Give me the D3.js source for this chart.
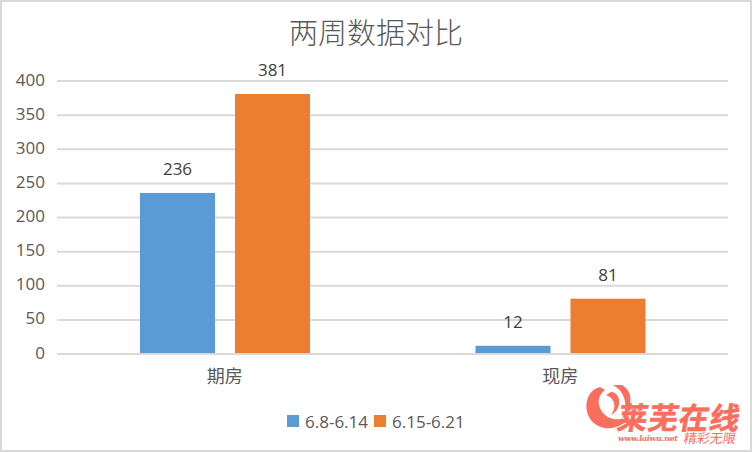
<!DOCTYPE html>
<html>
<head>
<meta charset="utf-8">
<script src="https://cdn.jsdelivr.net/npm/d3@7"></script>
<style>
  html, body { margin: 0; padding: 0; background: #fff; }
  svg { display: block; }
  text { font-family: "Open Sans", "Noto Sans CJK SC", sans-serif; fill: #595959; }
</style>
</head>
<body>
<div id="chart"></div>
<script>
var WIDTH = 752, HEIGHT = 452;

var title = '两周数据对比';
var categories = ['期房', '现房'];
var seriesNames = ['6.8-6.14', '6.15-6.21'];
var seriesColors = ['#5B9BD5', '#ED7D31'];
var week1 = [236, 12];
var week2 = [381, 81];
var yTicks = [0, 50, 100, 150, 200, 250, 300, 350, 400];
var seriesValues = [week1, week2];

var svg = d3.select('#chart').append('svg')
  .attr('width', WIDTH)
  .attr('height', HEIGHT);

// frame of the pasted chart
svg.append('rect')
  .attr('x', 1).attr('y', 1)
  .attr('width', WIDTH - 2).attr('height', HEIGHT - 2)
  .attr('fill', '#fff')
  .attr('stroke', '#d9d9d9')
  .attr('stroke-width', 2);

var x0 = d3.scaleBand().domain(categories).range([57, 728]);
var x1 = d3.scaleBand().domain(d3.range(seriesNames.length))
  .range([83, 253])
  .paddingInner(20 / 95);
var y = d3.scaleLinear().domain([0, 400]).range([354, 81]);

function gridLines(ticks) {
  svg.append('g').selectAll('line')
    .data(ticks)
    .enter().append('line')
    .attr('x1', 57).attr('x2', 728)
    .attr('y1', function(d) { return y(d); })
    .attr('y2', function(d) { return y(d); })
    .attr('stroke', '#d9d9d9')
    .attr('stroke-width', 2);
}

gridLines(yTicks.slice(1));

// y tick labels
svg.append('g').selectAll('text')
  .data(yTicks)
  .enter().append('text')
  .attr('x', 45)
  .attr('y', function(d) { return y(d) + 4.5; })
  .attr('text-anchor', 'end')
  .attr('font-size', 17)
  .text(function(d) { return d; });

// bars and value labels
seriesValues.forEach(function(values, i) {
  var g = svg.append('g');
  g.selectAll('rect')
    .data(values)
    .enter().append('rect')
    .attr('x', function(d, j) { return x0(categories[j]) + x1(i); })
    .attr('y', function(d) { return y(d); })
    .attr('width', x1.bandwidth())
    .attr('height', function(d) { return y(0) - y(d); })
    .attr('fill', seriesColors[i]);
  g.selectAll('text')
    .data(values)
    .enter().append('text')
    .attr('x', function(d, j) { return x0(categories[j]) + x1(i) + x1.bandwidth() / 2; })
    .attr('y', function(d) { return y(d) - 18; })
    .attr('text-anchor', 'middle')
    .attr('font-size', 17)
    .style('fill', '#404040')
    .text(function(d) { return d; });
});

// baseline sits on top of the bars
gridLines([0]);

// category labels
svg.append('g').selectAll('text')
  .data(categories)
  .enter().append('text')
  .attr('x', function(d) { return x0(d) + x0.bandwidth() / 2; })
  .attr('y', 383)
  .attr('text-anchor', 'middle')
  .attr('font-size', 18)
  .text(function(d) { return d; });

svg.append('text')
  .attr('x', 376)
  .attr('y', 44)
  .attr('text-anchor', 'middle')
  .attr('font-size', 29)
  .attr('font-weight', 300)
  .style('font-family', '"Noto Sans CJK SC", sans-serif')
  .text(title);

// legend
var legendX = [287, 374];
var legend = svg.append('g').selectAll('g')
  .data(seriesNames)
  .enter().append('g')
  .attr('transform', function(d, i) { return 'translate(' + legendX[i] + ',415)'; });
legend.append('rect')
  .attr('width', 12).attr('height', 12)
  .attr('fill', function(d, i) { return seriesColors[i]; });
legend.append('text')
  .attr('x', 18)
  .attr('y', 12.5)
  .attr('font-size', 17)
  .text(function(d) { return d; });

// watermark
var wmColor = '#FA6E5E';
var wm = svg.append('g').attr('fill', wmColor);
wm.append('path')
  .attr('d', 'M600 387 C584 391 582 414 595 424 C606 432 622 428 630 417 C620 421 609 420 603 413 C597 405 597 396 605 390 Z');
wm.append('path')
  .attr('d', 'M613 385 C626 392 629 408 621 420 C633 408 634 392 622 385 Z');
wm.append('path')
  .attr('d', 'M606 395 C615 398 617 407 611 415 C622 410 622 393 611 392 Z');
wm.append('text')
  .attr('transform', 'translate(616,429) skewX(-10)')
  .attr('font-size', 30).attr('font-weight', 700)
  .attr('textLength', 122)
  .style('font-family', '"Noto Sans CJK SC", sans-serif')
  .style('fill', wmColor)
  .style('stroke', wmColor)
  .style('stroke-width', 0.6)
  .text('莱芜在线');
wm.append('text')
  .attr('x', 618).attr('y', 441)
  .attr('font-size', 8).attr('font-weight', 700).attr('font-style', 'italic')
  .attr('textLength', 60)
  .style('font-family', '"DejaVu Serif", serif')
  .style('fill', wmColor)
  .text('www.laiwu.net');
wm.append('text')
  .attr('transform', 'translate(683,443) skewX(-10)')
  .attr('font-size', 13)
  .style('font-family', '"Noto Sans CJK SC", sans-serif')
  .style('fill', wmColor)
  .text('精彩无限');
</script>
</body>
</html>
